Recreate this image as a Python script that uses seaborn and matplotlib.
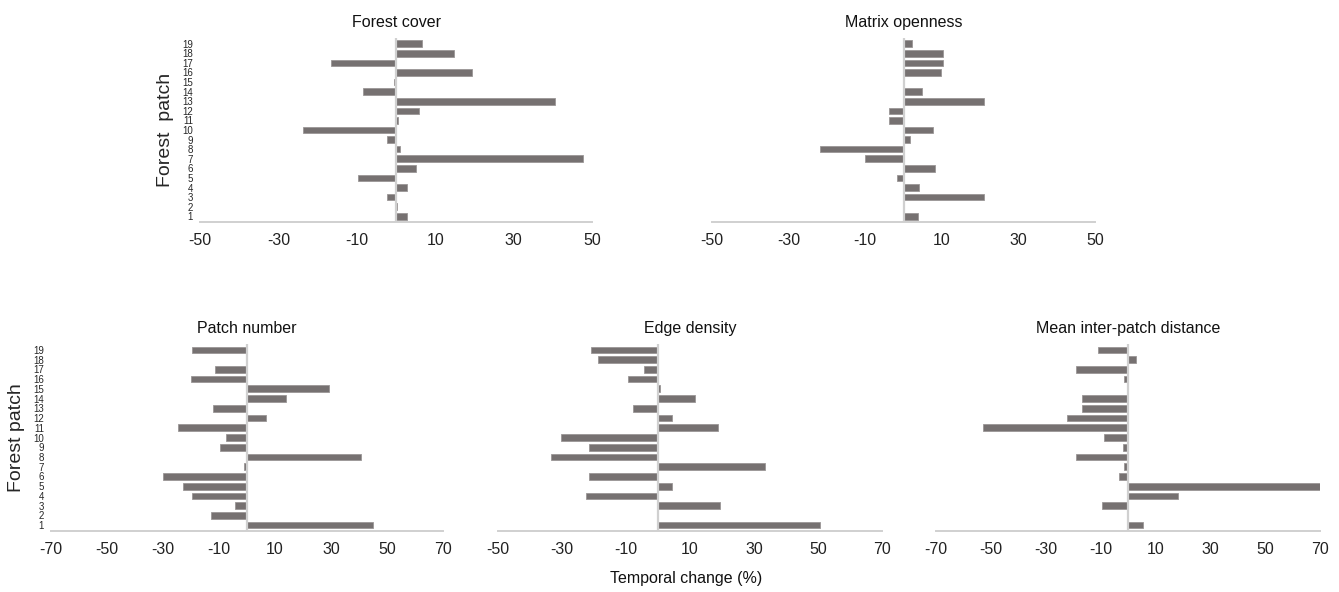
import numpy as np
import pandas as pd
import seaborn as sns
import matplotlib.pyplot as plt

sns.set_theme(style="white")
plt.rcParams['font.family'] = ['Liberation Sans', 'DejaVu Sans']

#%% data (patch 1..19)
patches = [str(i) for i in range(1, 20)]
forest_cover = [2.8, 0.3, -2.4, 2.8, -9.8, 5.1, 47.7, 0.9, -2.4, -23.7,
                0.6, 5.8, 40.6, -8.3, -0.4, 19.3, -16.6, 14.8, 6.6]
matrix_openness = [3.7, 0.0, 20.9, 4.0, -1.6, 8.3, -10.1, -21.9, 1.7, 7.8,
                   -3.7, -3.9, 21.1, 4.8, 0.0, 9.7, 10.2, 10.4, 2.2]
patch_number = [45.0, -12.7, -4.3, -19.5, -22.7, -30.0, -1.1, 40.8, -9.6, -7.4,
                -24.6, 6.7, -12.2, 14.0, 29.2, -20.0, -11.6, 0.0, -19.5]
edge_density = [50.6, 0.0, 19.5, -22.5, 4.4, -21.6, 33.3, -33.5, -21.6, -30.4,
                18.6, 4.4, -7.9, 11.7, 0.7, -9.4, -4.3, -18.9, -20.9]
inter_patch = [5.6, 0.0, -9.4, 18.3, 70.0, -3.4, -1.4, -19.0, -2.0, -8.8,
               -52.9, -22.1, -16.9, -16.9, 0.0, -1.4, -19.0, 2.9, -11.0]

panels = [
    ("Forest cover", forest_cover, (-50, 50), [-50, -30, -10, 10, 30, 50]),
    ("Matrix openness", matrix_openness, (-50, 50), [-50, -30, -10, 10, 30, 50]),
    ("Patch number", patch_number, (-70, 70), [-70, -50, -30, -10, 10, 30, 50, 70]),
    ("Edge density", edge_density, (-50, 70), [-50, -30, -10, 10, 30, 50, 70]),
    ("Mean inter-patch distance", inter_patch, (-70, 70), [-70, -50, -30, -10, 10, 30, 50, 70]),
]

W, H = 1339, 592
# axes boxes in pixels: left, right, top, bottom
boxes = [
    (200, 592, 38, 222),
    (712, 1095, 38, 222),
    (51, 443, 344, 531),
    (498, 882, 344, 531),
    (936, 1320, 344, 531),
]

bar_col = "#767171"
line_col = "#d0d0d0"

fig = plt.figure(figsize=(W / 100, H / 100), dpi=100)
order = patches[::-1]

for i, ((title, vals, lim, ticks), (l, r, t, b)) in enumerate(zip(panels, boxes)):
    ax = fig.add_axes([l / W, 1 - b / H, (r - l) / W, (b - t) / H])
    df = pd.DataFrame({"patch": patches, "change": vals})
    sns.barplot(data=df, x="change", y="patch", order=order, color=bar_col,
                saturation=1, width=0.68, edgecolor="#9a9696", linewidth=0.6, ax=ax)
    ax.axvline(0, color=line_col, lw=1.6, zorder=3)
    ax.set_xlim(*lim)
    ax.set_xticks(ticks)
    ax.set_xticklabels([str(v) for v in ticks], fontsize=11.5, color="#222222")
    ax.set_ylim(18.6, -0.6)
    ax.set_xlabel("")
    for s in ["top", "right", "left"]:
        ax.spines[s].set_visible(False)
    ax.spines["bottom"].set_color(line_col)
    ax.spines["bottom"].set_linewidth(1.4)
    ax.tick_params(axis="x", length=0, pad=8)
    ax.tick_params(axis="y", length=0, pad=5)
    ax.set_title(title, fontsize=11.5, pad=8, color="#111111")
    if i == 0:
        ax.set_ylabel("Forest  patch", fontsize=14, labelpad=6)
        ax.set_yticklabels(order, fontsize=7)
    elif i == 2:
        ax.set_ylabel("Forest patch", fontsize=14, labelpad=6)
        ax.set_yticklabels(order, fontsize=7)
    else:
        ax.set_ylabel("")
        ax.set_yticklabels([])

fig.text(686 / W, 1 - 578 / H, "Temporal change (%)", ha="center", va="center",
         fontsize=11.5, color="#111111")

fig.savefig("out.png", dpi=100, facecolor="white")
